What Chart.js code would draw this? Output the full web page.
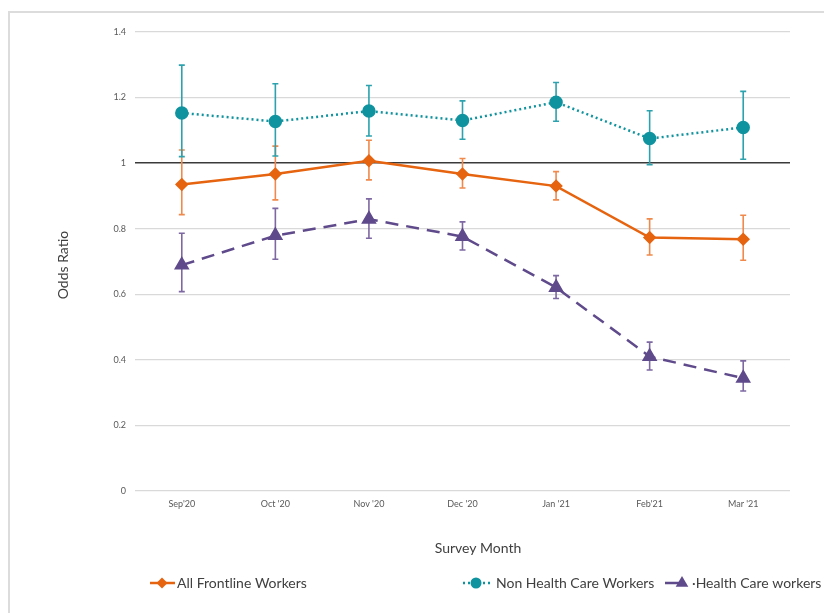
<!DOCTYPE html>
<html>
<head>
<meta charset="utf-8">
<script src="https://cdn.jsdelivr.net/npm/chart.js@4"></script>
<style>
  html, body { margin: 0; padding: 0; background: #ffffff; }
  #wrap { width: 824px; height: 613px; }
</style>
</head>
<body>
<div id="wrap"><canvas id="c" width="824" height="613"></canvas></div>
<script>
// Survey months (x categories)
const months = ["Sep'20", "Oct '20", "Nov '20", "Dec '20", "Jan '21", "Feb'21", "Mar '21"];

// Odds ratios with 95% confidence limits
const allFrontline     = [0.935, 0.967, 1.007, 0.967, 0.930, 0.773, 0.768];
const allFrontlineLow  = [0.843, 0.888, 0.949, 0.924, 0.888, 0.720, 0.704];
const allFrontlineHigh = [1.040, 1.052, 1.070, 1.014, 0.974, 0.830, 0.841];

const nonHealthCare     = [1.153, 1.127, 1.159, 1.130, 1.186, 1.075, 1.109];
const nonHealthCareLow  = [1.020, 1.022, 1.083, 1.073, 1.128, 0.995, 1.012];
const nonHealthCareHigh = [1.299, 1.242, 1.237, 1.190, 1.246, 1.160, 1.219];

const healthCare     = [0.689, 0.779, 0.829, 0.776, 0.621, 0.410, 0.344];
const healthCareLow  = [0.608, 0.707, 0.771, 0.735, 0.587, 0.369, 0.305];
const healthCareHigh = [0.786, 0.862, 0.891, 0.821, 0.657, 0.454, 0.397];

// Y axis tick labels
const yTickLabels = ["0", "0.2", "0.4", "0.6", "0.8", "1", "1.2", "1.4"];

const FONT = "Lato, 'Open Sans', sans-serif";
const ORANGE = "#e6640f", ORANGE_ERR = "#ef8a4c";
const TEAL = "#0f939f", TEAL_ERR = "#2ca2ae";
const PURPLE = "#5f4a8b", PURPLE_ERR = "#7d68a2";

const errorSets = [
  { low: allFrontlineLow, high: allFrontlineHigh, color: ORANGE_ERR },
  { low: nonHealthCareLow, high: nonHealthCareHigh, color: TEAL_ERR },
  { low: healthCareLow, high: healthCareHigh, color: PURPLE_ERR }
];

// Outer frame and white background
const framePlugin = {
  id: 'frame',
  beforeDraw(chart) {
    const ctx = chart.ctx;
    ctx.save();
    ctx.fillStyle = '#ffffff';
    ctx.fillRect(0, 0, chart.width, chart.height);
    ctx.strokeStyle = '#dcdcdc';
    ctx.lineWidth = 2;
    ctx.strokeRect(9, 12, chart.width + 20, chart.height + 20);
    ctx.restore();
  }
};

// Confidence-interval whiskers with caps
const errorBarPlugin = {
  id: 'errorBars',
  beforeDatasetsDraw(chart) {
    const ctx = chart.ctx;
    const xs = chart.scales.x, ys = chart.scales.y;
    ctx.save();
    errorSets.forEach(set => {
      ctx.strokeStyle = set.color;
      ctx.lineWidth = 1.6;
      months.forEach((m, i) => {
        const x = xs.getPixelForValue(i);
        const yl = ys.getPixelForValue(set.low[i]);
        const yh = ys.getPixelForValue(set.high[i]);
        ctx.beginPath();
        ctx.moveTo(x, yl); ctx.lineTo(x, yh);
        ctx.moveTo(x - 3, yl); ctx.lineTo(x + 3, yl);
        ctx.moveTo(x - 3, yh); ctx.lineTo(x + 3, yh);
        ctx.stroke();
      });
    });
    ctx.restore();
  }
};

function drawMarker(ctx, style, x, y, r, color) {
  ctx.save();
  ctx.fillStyle = color;
  ctx.beginPath();
  if (style === 'rectRot') {
    ctx.moveTo(x, y - r); ctx.lineTo(x + r, y); ctx.lineTo(x, y + r); ctx.lineTo(x - r, y);
  } else if (style === 'circle') {
    ctx.arc(x, y, r, 0, Math.PI * 2);
  } else {
    ctx.moveTo(x, y - r); ctx.lineTo(x + r * 0.9, y + r * 0.55); ctx.lineTo(x - r * 0.9, y + r * 0.55);
  }
  ctx.closePath();
  ctx.fill();
  ctx.restore();
}

// Axis titles and legend along the bottom
const annotationPlugin = {
  id: 'annotations',
  afterDraw(chart) {
    const ctx = chart.ctx;
    ctx.save();
    ctx.fillStyle = '#404040';
    ctx.font = "14px " + FONT;
    ctx.textAlign = 'center';
    ctx.textBaseline = 'middle';
    ctx.save();
    ctx.translate(63, 265);
    ctx.rotate(-Math.PI / 2);
    ctx.fillText('Odds Ratio', 0, 0);
    ctx.restore();
    ctx.fillText('Survey Month', 478, 548);

    // legend
    const ly = 583;
    const items = [
      { ds: 0, x0: 150, x1: 175, mx: 162, tx: 177, text: 'All Frontline Workers' },
      { ds: 1, x0: 463, x1: 493, mx: 476, tx: 496, text: 'Non Health Care Workers' },
      { ds: 2, x0: 665, x1: 692, mx: 682, tx: 692, text: '·Health Care workers' }
    ];
    items.forEach(it => {
      const d = chart.data.datasets[it.ds];
      ctx.save();
      ctx.strokeStyle = d.borderColor;
      ctx.lineWidth = d.borderWidth;
      ctx.setLineDash(it.ds === 2 ? [] : (d.borderDash || []));
      ctx.beginPath();
      const xEnd = it.ds === 2 ? it.mx : it.x1;
      ctx.moveTo(it.x0, ly); ctx.lineTo(xEnd, ly);
      ctx.stroke();
      ctx.restore();
      drawMarker(ctx, d.pointStyle, it.mx, ly, it.ds === 2 ? 7 : 5.5, d.pointBackgroundColor);
      ctx.fillStyle = '#404040';
      ctx.textAlign = 'left';
      ctx.fillText(it.text, it.tx, ly);
    });
    ctx.restore();
  }
};

new Chart(document.getElementById('c'), {
  type: 'line',
  data: {
    labels: months,
    datasets: [
      {
        label: 'All Frontline Workers',
        data: allFrontline,
        borderColor: ORANGE,
        backgroundColor: ORANGE,
        pointBackgroundColor: ORANGE,
        pointBorderColor: ORANGE,
        borderWidth: 2.5,
        pointStyle: 'rectRot',
        pointRadius: 5,
        tension: 0
      },
      {
        label: 'Non Health Care Workers',
        data: nonHealthCare,
        borderColor: TEAL,
        backgroundColor: TEAL,
        pointBackgroundColor: TEAL,
        pointBorderColor: TEAL,
        borderWidth: 2.5,
        borderDash: [2, 3],
        pointStyle: 'circle',
        pointRadius: 5.5,
        tension: 0
      },
      {
        label: 'Health Care workers',
        data: healthCare,
        borderColor: PURPLE,
        backgroundColor: PURPLE,
        pointBackgroundColor: PURPLE,
        pointBorderColor: PURPLE,
        borderWidth: 2.5,
        borderDash: [13, 8],
        pointStyle: 'triangle',
        pointRadius: 6.5,
        tension: 0
      }
    ]
  },
  options: {
    responsive: false,
    animation: false,
    events: [],
    layout: { padding: { left: 0, right: 34, top: 32, bottom: 0 } },
    plugins: {
      legend: { display: false },
      tooltip: { enabled: false },
      title: { display: false }
    },
    scales: {
      x: {
        offset: true,
        grid: { display: false, drawTicks: false },
        border: { display: false },
        ticks: { color: '#595959', font: { family: FONT, size: 9 }, padding: 8, maxRotation: 0 },
        afterFit(scale) { scale.height = 122; }
      },
      y: {
        min: 0, max: 1.4,
        grid: {
          drawTicks: false,
          color: ctx => (ctx.tick && Math.abs(ctx.tick.value - 1) < 1e-6) ? '#3a3a3a' : '#d9d9d9',
          lineWidth: ctx => (ctx.tick && Math.abs(ctx.tick.value - 1) < 1e-6) ? 1.4 : 1.2
        },
        border: { display: false },
        ticks: {
          stepSize: 0.2,
          color: '#595959',
          font: { family: FONT, size: 9 },
          padding: 9,
          callback: (v, i) => yTickLabels[i]
        },
        afterFit(scale) { scale.width = 135; }
      }
    }
  },
  plugins: [framePlugin, errorBarPlugin, annotationPlugin]
});
</script>
</body>
</html>
